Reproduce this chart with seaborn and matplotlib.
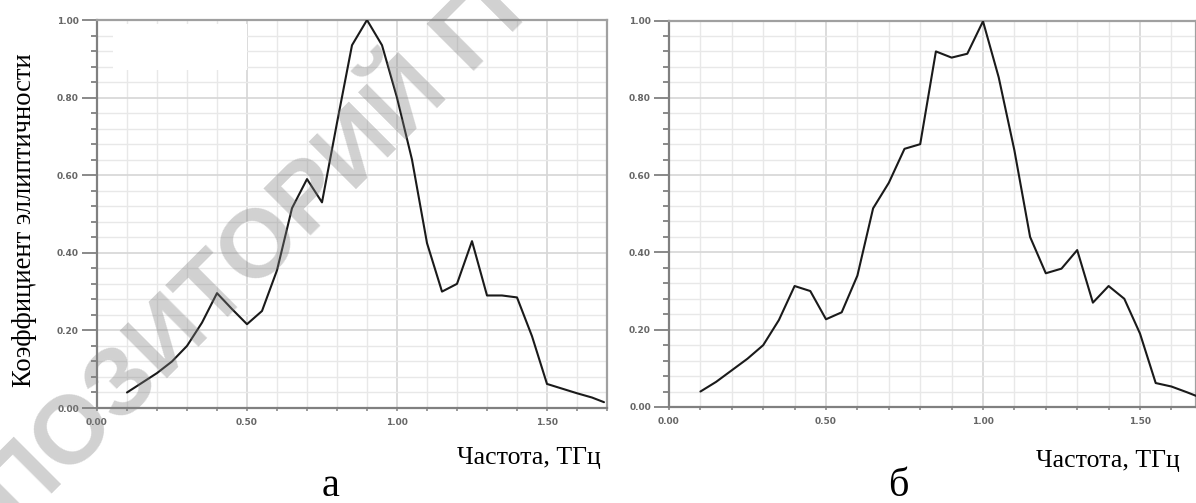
import numpy as np
import pandas as pd
import matplotlib
matplotlib.use("Agg")
import matplotlib.pyplot as plt
import seaborn as sns
from matplotlib.ticker import MultipleLocator, FormatStrFormatter
from matplotlib.patches import Rectangle

# ---------------- data ----------------
freq_a = [0.10, 0.15, 0.20, 0.25, 0.30, 0.35, 0.40, 0.45, 0.50, 0.55, 0.60,
          0.65, 0.70, 0.75, 0.80, 0.85, 0.90, 0.95, 1.00, 1.05, 1.10, 1.15,
          1.20, 1.25, 1.30, 1.35, 1.40, 1.45, 1.50, 1.55, 1.60, 1.65, 1.69]
ell_a = [0.040, 0.065, 0.090, 0.120, 0.160, 0.220, 0.296, 0.255, 0.216, 0.250, 0.355,
         0.515, 0.590, 0.530, 0.735, 0.935, 1.000, 0.935, 0.800, 0.640, 0.425, 0.300,
         0.320, 0.430, 0.290, 0.290, 0.285, 0.185, 0.062, 0.050, 0.038, 0.027, 0.015]

freq_b = [0.10, 0.15, 0.20, 0.25, 0.30, 0.35, 0.40, 0.45, 0.50, 0.55, 0.60,
          0.65, 0.70, 0.75, 0.80, 0.85, 0.90, 0.95, 1.00, 1.05, 1.10, 1.15,
          1.20, 1.25, 1.30, 1.35, 1.40, 1.45, 1.50, 1.55, 1.60, 1.65, 1.70]
ell_b = [0.040, 0.065, 0.095, 0.125, 0.160, 0.225, 0.313, 0.300, 0.227, 0.245, 0.340,
         0.514, 0.580, 0.668, 0.680, 0.920, 0.904, 0.914, 0.998, 0.853, 0.664, 0.440,
         0.346, 0.358, 0.406, 0.270, 0.313, 0.280, 0.190, 0.062, 0.053, 0.038, 0.022]

x_major = [0.0, 0.5, 1.0, 1.5]
y_major = [0.0, 0.2, 0.4, 0.6, 0.8, 1.0]

y_label = "Коэффициент эллиптичности"
x_label = "Частота, ТГц"
panel_labels = ["а", "б"]
watermark = "РЕПОЗИТОРИЙ ГГУ"

# ---------------- figure ----------------
sns.set_style("white")
plt.rcParams['font.family'] = ['DejaVu Sans']

W, H = 1196, 503
fig = plt.figure(figsize=(W / 100, H / 100), dpi=100)
fig.patch.set_facecolor("white")

def px_axes(x0, y_top, x1, y_bot):
    return fig.add_axes([x0 / W, 1 - y_bot / H, (x1 - x0) / W, (y_bot - y_top) / H])

ax_a = px_axes(97, 20, 607, 408)
ax_b = px_axes(669, 20.5, 1196, 407)

df_a = pd.DataFrame({"f": freq_a, "k": ell_a})
df_b = pd.DataFrame({"f": freq_b, "k": ell_b})

for ax, df, xmax in [(ax_a, df_a, 1.70), (ax_b, df_b, 527 / 314)]:
    ax.set_axisbelow(True)
    sns.lineplot(data=df, x="f", y="k", ax=ax, color="#1a1a1a", linewidth=1.5,
                 zorder=3, estimator=None, sort=False)
    ax.set_xlim(0, xmax)
    ax.set_ylim(0, 1.0)
    ax.set_xticks(x_major)
    ax.set_yticks(y_major)
    ax.xaxis.set_minor_locator(MultipleLocator(0.1))
    ax.yaxis.set_minor_locator(MultipleLocator(0.04))
    ax.xaxis.set_major_formatter(FormatStrFormatter("%.2f"))
    ax.yaxis.set_major_formatter(FormatStrFormatter("%.2f"))
    ax.grid(which="minor", color="#e8e8e8", linewidth=1.0)
    ax.grid(which="major", color="#d6d6d6", linewidth=1.2)
    ax.set_xlabel("")
    ax.set_ylabel("")
    for s in ["left", "bottom"]:
        ax.spines[s].set_color("#808080")
        ax.spines[s].set_linewidth(1.6)
    for s in ["top", "right"]:
        ax.spines[s].set_color("#a0a0a0")
        ax.spines[s].set_linewidth(1.6)
    ax.tick_params(axis="y", which="major", direction="out", length=10.5, width=1.3,
                   color="#808080", pad=2.5, labelsize=6.5, labelcolor="#666666", left=True)
    ax.tick_params(axis="y", which="minor", direction="out", length=4.5, width=1.3,
                   color="#808080", left=True)
    ax.tick_params(axis="x", which="both", direction="out", length=2.2, width=1.1,
                   color="#808080", pad=5, labelsize=6.5, labelcolor="#666666", bottom=True)
    for lab in ax.get_xticklabels() + ax.get_yticklabels():
        lab.set_fontweight("bold")

# blank rectangle (removed legend) in left panel
ax_a.add_patch(Rectangle((0.031, 0.87), 0.263, 0.12, transform=ax_a.transAxes,
                         facecolor="white", edgecolor="none", zorder=1))

serif = ["Liberation Serif", "DejaVu Serif"]
fig.text(25 / W, 1 - 220 / H, y_label, rotation=90, ha="center", va="center",
         family=serif, fontsize=19.2, color="black")
fig.text(529 / W, 1 - 458 / H, x_label, ha="center", va="center",
         family=serif, fontsize=18.5, color="black")
fig.text(1108 / W, 1 - 461 / H, x_label, ha="center", va="center",
         family=serif, fontsize=18.5, color="black")
fig.text(331 / W, 1 - 486 / H, panel_labels[0], ha="center", va="center",
         family=serif, fontsize=29, color="black")
fig.text(898 / W, 1 - 486 / H, panel_labels[1], ha="center", va="center",
         family=serif, fontsize=29, color="black")

# diagonal watermark
fig.text(240 / W, 1 - 270 / H, watermark, rotation=45, ha="center", va="center",
         family=["Liberation Sans", "DejaVu Sans"], fontsize=70, fontweight="bold",
         color=(0.5, 0.5, 0.5), alpha=0.36, rotation_mode="anchor", zorder=10)

fig.savefig("out.png", dpi=100, facecolor="white")
